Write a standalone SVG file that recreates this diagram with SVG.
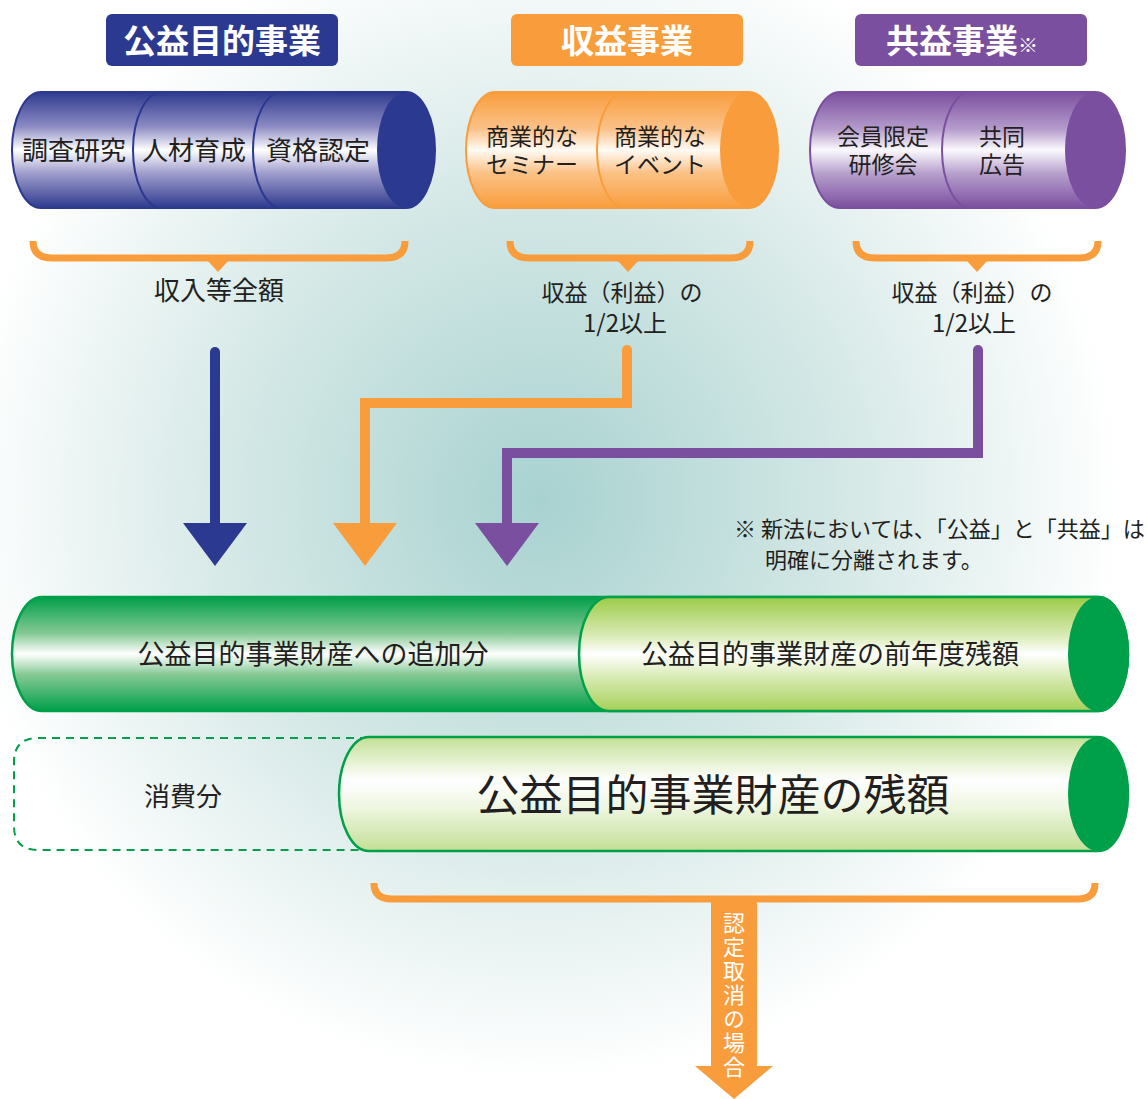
<svg xmlns="http://www.w3.org/2000/svg" width="1147" height="1099" viewBox="0 0 1147 1099">
<defs>
<radialGradient id="bg" cx="540" cy="500" r="580" gradientUnits="userSpaceOnUse">
<stop offset="0" stop-color="#a8d2d0"/>
<stop offset="0.55" stop-color="#d6e9e7"/>
<stop offset="1" stop-color="#ffffff"/>
</radialGradient>
<linearGradient id="gBlue" x1="0" y1="0" x2="0" y2="1">
<stop offset="0" stop-color="#2e3a8e"/>
<stop offset="0.3" stop-color="#8d8bc3"/>
<stop offset="0.5" stop-color="#ffffff"/>
<stop offset="0.7" stop-color="#9f9dcc"/>
<stop offset="1" stop-color="#2e3a8e"/>
</linearGradient>
<linearGradient id="gOrange" x1="0" y1="0" x2="0" y2="1">
<stop offset="0" stop-color="#f99d3c"/>
<stop offset="0.32" stop-color="#fbc28a"/>
<stop offset="0.5" stop-color="#fffbf5"/>
<stop offset="0.7" stop-color="#fbc185"/>
<stop offset="1" stop-color="#f99d3c"/>
</linearGradient>
<linearGradient id="gPurple" x1="0" y1="0" x2="0" y2="1">
<stop offset="0" stop-color="#7b4f9f"/>
<stop offset="0.32" stop-color="#b59ccc"/>
<stop offset="0.5" stop-color="#fbf9fd"/>
<stop offset="0.7" stop-color="#b7a0cd"/>
<stop offset="1" stop-color="#7b4f9f"/>
</linearGradient>
<linearGradient id="gDark" x1="0" y1="0" x2="0" y2="1">
<stop offset="0" stop-color="#00a04a"/>
<stop offset="0.32" stop-color="#86c995"/>
<stop offset="0.5" stop-color="#ffffff"/>
<stop offset="0.68" stop-color="#86c995"/>
<stop offset="1" stop-color="#00a04a"/>
</linearGradient>
<linearGradient id="gLight" x1="0" y1="0" x2="0" y2="1">
<stop offset="0" stop-color="#9ccb46"/>
<stop offset="0.32" stop-color="#d5e9ad"/>
<stop offset="0.5" stop-color="#ffffff"/>
<stop offset="0.72" stop-color="#d5e9ad"/>
<stop offset="1" stop-color="#a6d058"/>
</linearGradient>
<linearGradient id="gPale" x1="0" y1="0" x2="0" y2="1">
<stop offset="0" stop-color="#c3df95"/>
<stop offset="0.38" stop-color="#ffffff"/>
<stop offset="0.6" stop-color="#f0f7e4"/>
<stop offset="1" stop-color="#c3df95"/>
</linearGradient>
<style>
.t{font-family:"Noto Sans CJK JP","Noto Sans",sans-serif;fill:#231f20;text-anchor:middle}
.s{font-family:"Noto Sans CJK JP","Noto Sans",sans-serif;fill:#231f20;text-anchor:start}
.h{font-family:"Noto Sans CJK JP","Noto Sans",sans-serif;fill:#ffffff;font-weight:bold;text-anchor:middle;font-size:33px}
.v{font-family:"Noto Sans CJK JP","Noto Sans",sans-serif;fill:#ffffff;font-size:22px;writing-mode:vertical-rl;letter-spacing:2px}
.brace{fill:none;stroke:#f99d3c;stroke-width:7}
.or{fill:#f99d3c}
</style>
</defs>
<rect x="0" y="0" width="1147" height="1099" fill="url(#bg)"/>

<g id="header-koeki">
<rect x="106" y="14" width="232" height="52" rx="6" fill="#2b3990"/>
<text class="h" x="222" y="53">公益目的事業</text>
</g>
<g id="header-shueki">
<rect x="511" y="14" width="232" height="52" rx="6" fill="#f99d3c"/>
<text class="h" x="627" y="53">収益事業</text>
</g>
<g id="header-kyoeki">
<rect x="855" y="14" width="232" height="52" rx="6" fill="#7b4f9f"/>
<text class="h" x="962" y="53">共益事業<tspan font-size="20" font-weight="normal">※</tspan></text>
</g>

<g id="cyl-koeki">
<path d="M41,92 L406,92 A29,58 0 0 1 406,208 L41,208 A29,58 0 0 1 41,92 Z" fill="url(#gBlue)" stroke="#2b3990" stroke-width="2"/>
<path d="M162,92 A29,58 0 0 0 162,208" fill="none" stroke="#2b3990" stroke-width="2"/>
<path d="M282,92 A29,58 0 0 0 282,208" fill="none" stroke="#2b3990" stroke-width="2"/>
<ellipse cx="406" cy="150" rx="29" ry="58" fill="#2b3990"/>
<text class="t" x="74" y="160" font-size="26">調査研究</text>
<text class="t" x="194" y="160" font-size="26">人材育成</text>
<text class="t" x="318" y="160" font-size="26">資格認定</text>
</g>

<g id="cyl-shueki">
<path d="M495,92 L749,92 A29,58 0 0 1 749,208 L495,208 A29,58 0 0 1 495,92 Z" fill="url(#gOrange)" stroke="#f99d3c" stroke-width="2"/>
<path d="M626,92 A29,58 0 0 0 626,208" fill="none" stroke="#f99d3c" stroke-width="2"/>
<ellipse cx="749" cy="150" rx="29" ry="58" fill="#f99d3c"/>
<text class="t" x="532" y="145" font-size="23">商業的な</text>
<text class="t" x="532" y="173" font-size="23">セミナー</text>
<text class="t" x="660" y="145" font-size="23">商業的な</text>
<text class="t" x="660" y="173" font-size="23">イベント</text>
</g>

<g id="cyl-kyoeki">
<path d="M840,92 L1095,92 A30,58 0 0 1 1095,208 L840,208 A30,58 0 0 1 840,92 Z" fill="url(#gPurple)" stroke="#7b4f9f" stroke-width="2"/>
<path d="M971,92 A29,58 0 0 0 971,208" fill="none" stroke="#7b4f9f" stroke-width="2"/>
<ellipse cx="1095" cy="150" rx="30" ry="58" fill="#7b4f9f"/>
<text class="t" x="883" y="145" font-size="23">会員限定</text>
<text class="t" x="883" y="173" font-size="23">研修会</text>
<text class="t" x="1002" y="145" font-size="23">共同</text>
<text class="t" x="1002" y="173" font-size="23">広告</text>
</g>

<g id="brace-koeki">
<path class="brace" d="M33,241 Q33,258 52,258 L386,258 Q405,258 405,241"/>
<polygon class="or" points="207,260 229,260 218,272"/>
<text class="t" x="219" y="300" font-size="26">収入等全額</text>
</g>
<g id="brace-shueki">
<path class="brace" d="M510,241 Q510,258 529,258 L731,258 Q750,258 750,241"/>
<polygon class="or" points="617,260 639,260 628,272"/>
<text class="t" x="622" y="301" font-size="23">収益（利益）の</text>
<text class="t" x="625" y="332" font-size="24">1/2以上</text>
</g>
<g id="brace-kyoeki">
<path class="brace" d="M856,241 Q856,258 875,258 L1079,258 Q1098,258 1098,241"/>
<polygon class="or" points="966,260 988,260 977,272"/>
<text class="t" x="972" y="301" font-size="23">収益（利益）の</text>
<text class="t" x="974" y="332" font-size="24">1/2以上</text>
</g>

<g id="connectors">
<path d="M215,352 L215,526" fill="none" stroke="#2b3990" stroke-width="10" stroke-linecap="round"/>
<polygon points="183,523 247,523 215,566" fill="#2b3990"/>
<path d="M627,350 L627,403 L365,403 L365,526" fill="none" stroke="#f99d3c" stroke-width="10"/>
<circle cx="627" cy="350" r="5" fill="#f99d3c"/>
<polygon points="333,523 397,523 365,566" fill="#f99d3c"/>
<path d="M978,350 L978,453 L507,453 L507,526" fill="none" stroke="#7b4f9f" stroke-width="10"/>
<circle cx="978" cy="350" r="5" fill="#7b4f9f"/>
<polygon points="475,523 539,523 507,566" fill="#7b4f9f"/>
</g>

<g id="note">
<text class="s" x="734" y="537" font-size="22">※ 新法においては、「公益」と「共益」は</text>
<text class="s" x="765" y="568" font-size="22">明確に分離されます。</text>
</g>

<g id="bar-add">
<path d="M42,597 L1098,597 A30,57 0 0 1 1098,711 L42,711 A30,57 0 0 1 42,597 Z" fill="url(#gDark)" stroke="#00a04a" stroke-width="2.5"/>
<text class="t" x="313" y="664" font-size="27">公益目的事業財産への追加分</text>
</g>
<g id="bar-prev">
<path d="M609,597 L1098,597 A30,57 0 0 1 1098,711 L609,711 A30,57 0 0 1 609,597 Z" fill="url(#gLight)" stroke="#00a04a" stroke-width="2.5"/>
<ellipse cx="1098" cy="654" rx="30" ry="57" fill="#00a04a"/>
<text class="t" x="830" y="664" font-size="27">公益目的事業財産の前年度残額</text>
</g>

<g id="consumed">
<path d="M368,738 L38,738 Q14,738 14,762 L14,826 Q14,850 38,850 L368,850" fill="none" stroke="#00a04a" stroke-width="2" stroke-dasharray="8,6"/>
<text class="t" x="183" y="806" font-size="26">消費分</text>
</g>
<g id="bar-rest">
<path d="M369,737 L1098,737 A30,57 0 0 1 1098,851 L369,851 A30,57 0 0 1 369,737 Z" fill="url(#gPale)" stroke="#00a04a" stroke-width="2.5"/>
<ellipse cx="1098" cy="794" rx="30" ry="57" fill="#00a04a"/>
<text class="t" x="713" y="811" font-size="43">公益目的事業財産の残額</text>
</g>

<g id="revoke">
<path class="brace" d="M374,883 Q374,899 392,899 L1078,899 Q1095,899 1095,883"/>
<path class="or" d="M711,900 L757,900 L757,1066 L773,1066 L734,1099 L695,1066 L711,1066 Z"/>
<text class="v" x="734" y="912">認定取消の場合</text>
</g>
</svg>
